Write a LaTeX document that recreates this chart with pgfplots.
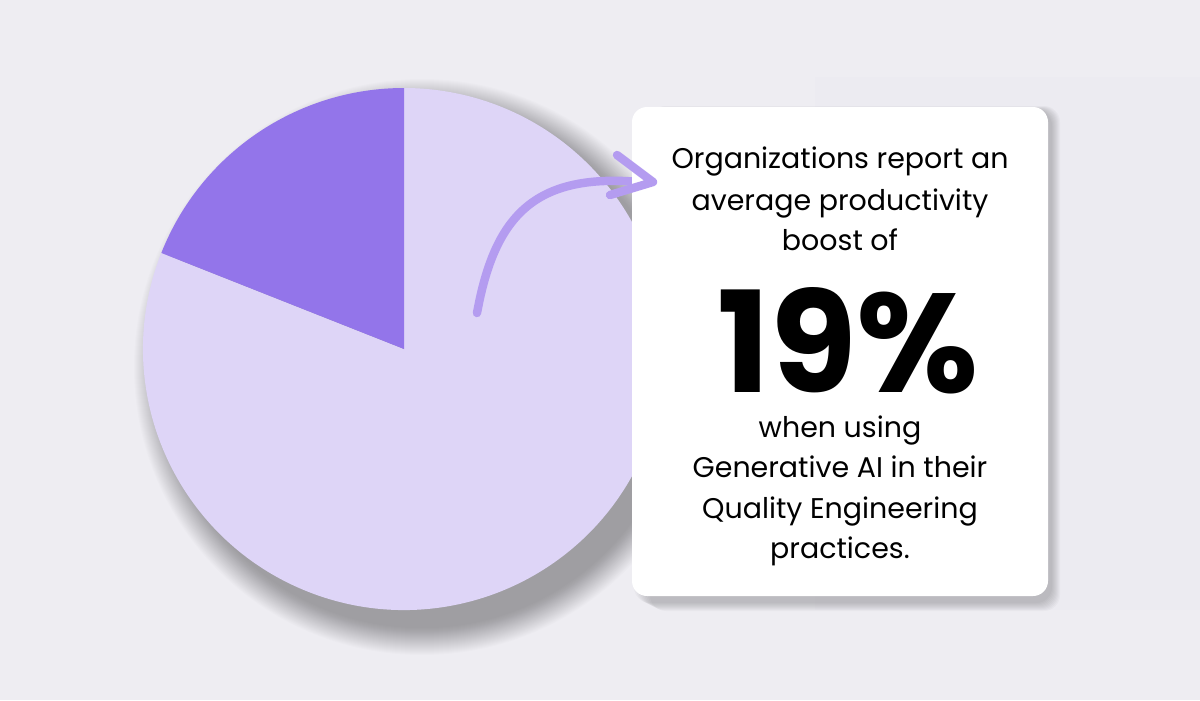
\documentclass[border=0pt]{standalone}
\usepackage{pgfplots}
\pgfplotsset{compat=1.18}
\usepackage{pgfplotstable}
\usepackage{fontspec}
\setmainfont{Poppins}
\definecolor{bg}{HTML}{EEEDF2}
\definecolor{panel}{HTML}{ECEBF1}
\definecolor{slicedark}{HTML}{9375EA}
\definecolor{slicelight}{HTML}{DED5F7}
\definecolor{arrowc}{HTML}{B49CF0}
\pgfplotstableread{
label value
Boost 19
Other 81
}\piedata
\begin{document}
\begin{tikzpicture}
\pgfplotstablegetelem{0}{value}\of\piedata \let\va\pgfplotsretval
\pgfplotstablegetelem{1}{value}\of\piedata \let\vb\pgfplotsretval
\pgfmathsetmacro\aA{90}
\pgfmathsetmacro\aB{90+3.6*\va}
\pgfmathsetmacro\aC{\aB+3.6*\vb}
\useasboundingbox (0,0) rectangle (12,7);
\fill[bg] (0,0) rectangle (12,7);
% faint panel behind the card
\fill[panel] (8.15,0.9) rectangle (12,6.23);
% pie glow and shadow
\foreach \i in {0,...,10} {
  \fill[white, opacity=0.035] (3.96,3.59) circle ({2.61+0.35-0.03*\i});
}
\foreach \i in {0,...,27} {
  \fill[black, opacity=0.013] (4.22,3.33) circle ({2.61+0.27-0.01*\i});
}
\begin{axis}[at={(4.04cm,3.51cm)}, anchor=center, width=5.22cm, height=5.22cm,
  scale only axis, hide axis, xmin=-1, xmax=1, ymin=-1, ymax=1, clip=false]
\fill[slicelight] (axis cs:0,0) -- (axis cs:{cos(\aB)},{sin(\aB)})
   arc[start angle=\aB, end angle=\aC, radius=2.61cm] -- cycle;
\fill[slicedark] (axis cs:0,0) -- (axis cs:{cos(\aA)},{sin(\aA)})
   arc[start angle=\aA, end angle=\aB, radius=2.61cm] -- cycle;
\end{axis}
% arrow shaft
\draw[arrowc, line width=2.4pt, line cap=round] (4.77,3.87) .. controls (4.95,4.85) and (5.35,5.3) .. (6.5,5.17);
% card shadow
\foreach \i in {0,...,8} {
  \fill[black, opacity=0.022, rounded corners=0.16cm] (6.34+0.02*\i,0.97-0.01*\i) rectangle (10.52+0.01*\i,5.9+0.005*\i);
}
% card
\fill[white, rounded corners=0.15cm] (6.32,1.04) rectangle (10.48,5.93);
% arrow head
\draw[arrowc, line width=2.4pt, line cap=round, line join=round] (6.17,5.45) -- (6.53,5.18) -- (6.10,5.05);
% text
\begin{scope}[every node/.style={anchor=base, inner sep=0pt, font=\fontsize{8.1pt}{10pt}\selectfont}]
\node at (8.40,5.32) {Organizations report an};
\node at (8.40,4.90) {average productivity};
\node at (8.40,4.50) {boost of};
\node at (8.40,2.63) {when using};
\node at (8.40,2.23) {Generative AI in their};
\node at (8.40,1.82) {Quality Engineering};
\node at (8.40,1.42) {practices.};
\end{scope}
% big number
\node[anchor=base, inner sep=0pt, font=\fontsize{40pt}{44pt}\selectfont\bfseries] at (8.48,3.08) {19\%};
\end{tikzpicture}
\end{document}
